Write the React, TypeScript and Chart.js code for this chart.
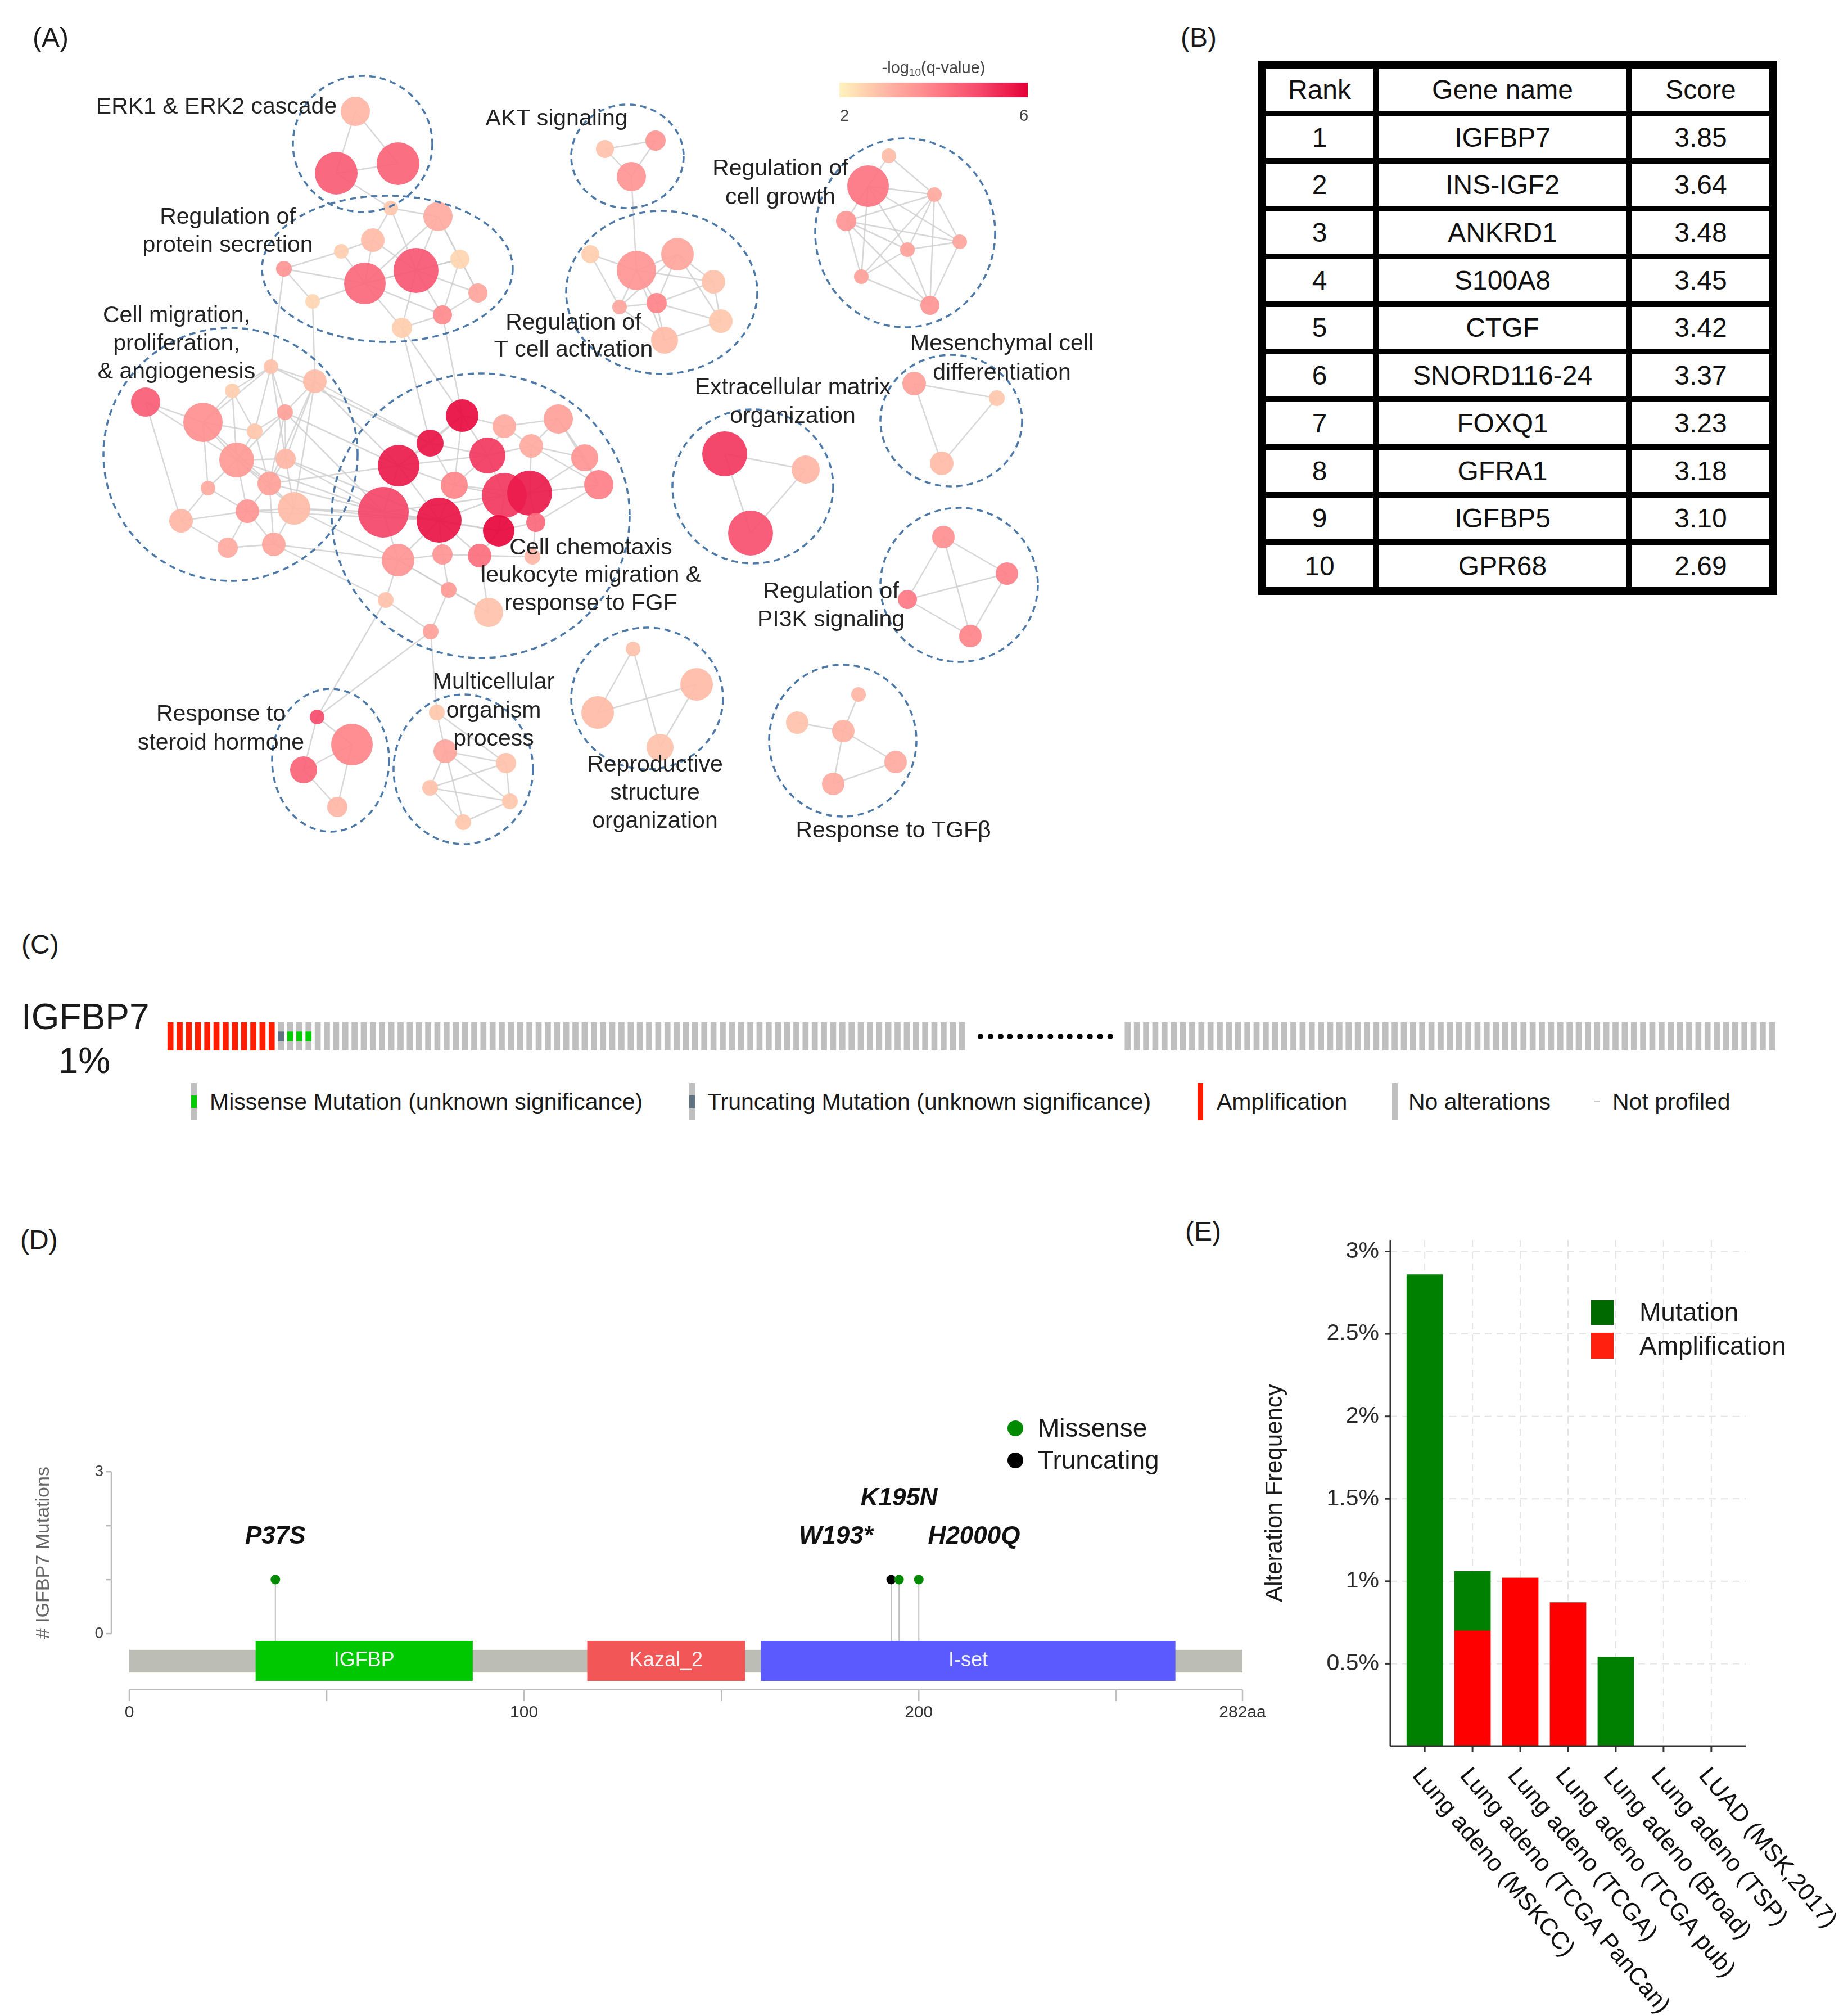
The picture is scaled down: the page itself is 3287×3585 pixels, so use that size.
import React, { useEffect, useRef } from 'react';
import { Chart, registerables } from 'chart.js';

Chart.register(...registerables);

const FONT = "'Liberation Sans', Arial, Helvetica, sans-serif";

// ================= Panel A: enrichment network =================
const clusterLabelLines: string[][] = [
  ['ERK1 & ERK2 cascade'],
  ['Regulation of', 'protein secretion'],
  ['Cell migration,', 'proliferation,', '& angiogenesis'],
  ['Cell chemotaxis', 'leukocyte migration &', 'response to FGF'],
  ['AKT signaling'],
  ['Regulation of', 'T cell activation'],
  ['Multicellular', 'organism', 'process'],
  ['Response to', 'steroid hormone'],
  ['Reproductive', 'structure', 'organization'],
  ['Response to TGFβ'],
  ['Extracellular matrix', 'organization'],
  ['Regulation of', 'cell growth'],
  ['Mesenchymal cell', 'differentiation'],
  ['Regulation of', 'PI3K signaling'],
];
const clusterLabelX = [385, 405, 314, 1051, 990, 1020, 878, 393, 1165, 1589, 1410, 1388, 1782, 1478];
const clusterLabelY: number[][] = [
  [191], [387, 437], [562, 612, 662], [975, 1024, 1074], [212], [575, 623],
  [1214, 1265, 1315], [1271, 1322], [1361, 1411, 1461], [1478], [690, 741],
  [301, 352], [612, 664], [1053, 1103],
];
// [cx, cy, rx, ry] in layout units
const clusterOutline: number[][] = [
  [645, 256, 124, 121], [689, 478, 223, 130], [410, 808, 226, 225], [855, 917, 265, 253],
  [1116, 278, 100, 92], [1177, 520, 170, 145], [824, 1368, 124, 133], [588, 1352, 104, 127],
  [1151, 1242, 135, 126], [1499, 1317, 131, 135], [1339, 865, 143, 137], [1610, 414, 160, 168],
  [1692, 748, 126, 117], [1706, 1040, 140, 137],
];
// nodes per cluster: [x, y, size, -log10(q)]
const clusterNodes: number[][][] = [
  [[632, 198, 26, 3.0], [598, 308, 38, 4.6], [708, 291, 38, 4.5]],
  [[695, 370, 13, 2.7], [779, 385, 26, 3.2], [663, 427, 21, 2.9], [607, 447, 13, 2.6], [505, 478, 14, 3.6],
   [740, 481, 40, 4.7], [649, 504, 37, 4.4], [818, 461, 17, 2.5], [850, 521, 17, 3.3], [787, 560, 17, 3.8],
   [556, 536, 13, 2.5], [715, 583, 18, 2.6]],
  [[482, 652, 13, 2.8], [560, 678, 21, 2.9], [413, 695, 13, 2.6], [259, 715, 26, 4.6], [361, 751, 35, 3.7],
   [507, 733, 14, 3.4], [453, 767, 14, 2.7], [421, 818, 31, 3.5], [508, 816, 18, 3.0], [479, 860, 21, 3.4],
   [370, 868, 13, 3.2], [523, 904, 29, 2.9], [440, 909, 21, 3.6], [322, 926, 21, 3.0], [487, 968, 21, 3.3],
   [405, 974, 18, 3.2]],
  [[822, 739, 29, 5.8], [897, 758, 21, 3.2], [993, 745, 26, 3.4], [765, 788, 24, 5.7], [709, 828, 37, 5.6],
   [867, 810, 32, 5.2], [945, 793, 21, 3.2], [1040, 814, 24, 3.6], [808, 863, 24, 3.9], [1065, 862, 26, 4.0],
   [682, 911, 45, 5.0], [897, 881, 40, 5.2], [942, 877, 40, 5.6], [781, 925, 40, 5.7], [887, 944, 28, 5.9],
   [953, 929, 17, 4.4], [708, 996, 29, 3.6], [787, 986, 18, 3.6], [853, 988, 21, 4.3], [947, 990, 14, 3.0],
   [798, 1049, 14, 3.5], [686, 1067, 14, 2.8], [869, 1089, 26, 2.8], [766, 1123, 14, 3.4]],
  [[1166, 250, 18, 3.6], [1076, 265, 16, 2.8], [1123, 314, 26, 3.6]],
  [[1050, 452, 16, 2.6], [1205, 452, 29, 3.3], [1132, 481, 35, 3.6], [1269, 501, 21, 2.8], [1102, 546, 13, 3.3],
   [1168, 539, 18, 3.9], [1282, 571, 21, 2.7], [1182, 605, 24, 2.9]],
  [[777, 1267, 14, 2.7], [792, 1336, 21, 3.3], [900, 1357, 18, 2.8], [765, 1401, 14, 2.8], [907, 1425, 14, 2.7],
   [824, 1462, 14, 2.7]],
  [[564, 1275, 13, 4.9], [626, 1324, 37, 3.9], [540, 1369, 24, 4.5], [600, 1435, 18, 3.0]],
  [[1126, 1154, 13, 2.8], [1239, 1217, 29, 2.9], [1063, 1267, 29, 2.9], [1174, 1329, 24, 2.8]],
  [[1527, 1235, 13, 3.0], [1418, 1285, 20, 2.8], [1500, 1300, 20, 3.1], [1593, 1355, 20, 3.2], [1482, 1394, 20, 3.2]],
  [[1289, 807, 40, 5.2], [1433, 835, 25, 3.0], [1335, 948, 40, 4.8]],
  [[1581, 277, 13, 2.9], [1544, 331, 37, 4.2], [1662, 346, 13, 3.2], [1505, 393, 18, 3.6], [1614, 444, 13, 3.4],
   [1707, 430, 13, 3.3], [1532, 492, 13, 3.4], [1654, 543, 17, 3.6]],
  [[1626, 682, 21, 3.4], [1773, 708, 14, 2.7], [1675, 824, 21, 2.9]],
  [[1678, 955, 20, 3.7], [1791, 1020, 20, 4.0], [1614, 1066, 17, 4.1], [1726, 1131, 20, 3.9]],
];
const clusterEdges: number[][][] = [
  [[0, 1], [0, 2], [1, 2]],
  [[0, 1], [0, 2], [0, 5], [1, 5], [1, 7], [2, 5], [2, 6], [3, 6], [4, 6], [5, 6], [5, 7], [5, 8], [5, 9], [6, 9],
   [6, 10], [6, 11], [7, 8], [8, 9], [9, 11], [2, 3], [1, 6], [5, 11], [7, 9], [1, 8], [4, 10], [6, 7], [3, 4]],
  [[0, 1], [0, 2], [0, 4], [0, 5], [0, 6], [1, 5], [1, 8], [2, 4], [2, 6], [3, 4], [4, 6], [4, 7], [4, 9], [5, 6],
   [5, 7], [5, 8], [6, 7], [6, 9], [7, 8], [7, 9], [7, 10], [7, 12], [8, 9], [8, 11], [9, 11], [9, 12], [10, 12],
   [10, 13], [11, 12], [11, 14], [12, 14], [12, 15], [13, 15], [14, 15], [4, 10], [1, 11], [0, 8], [2, 7], [7, 11],
   [9, 14], [12, 13], [3, 7], [5, 9], [3, 13], [1, 9]],
  [[0, 1], [0, 3], [0, 5], [0, 8], [1, 5], [1, 6], [2, 6], [2, 7], [3, 4], [3, 5], [3, 8], [4, 8], [4, 10], [4, 13],
   [5, 6], [5, 8], [5, 11], [6, 7], [6, 9], [7, 9], [7, 12], [8, 11], [8, 13], [9, 12], [10, 13], [10, 16], [11, 12],
   [11, 14], [12, 15], [13, 14], [13, 17], [14, 18], [13, 16], [16, 17], [17, 18], [18, 19], [17, 20], [16, 21],
   [20, 22], [20, 23], [18, 22], [15, 19], [9, 15], [11, 13], [4, 5], [0, 4], [10, 11], [14, 15], [12, 14],
   [21, 23], [16, 20], [1, 2], [2, 9], [10, 14], [8, 12], [13, 18], [6, 12], [16, 22]],
  [[0, 1], [1, 2], [0, 2]],
  [[0, 2], [1, 2], [1, 3], [1, 5], [2, 4], [2, 5], [2, 7], [3, 5], [3, 6], [5, 7], [4, 7], [1, 6], [2, 3], [4, 5],
   [5, 6], [1, 4], [0, 4], [6, 7]],
  [[0, 1], [1, 2], [1, 3], [1, 4], [1, 5], [2, 4], [3, 4], [3, 5], [4, 5], [2, 3], [0, 2]],
  [[0, 1], [1, 2], [1, 3], [2, 3], [0, 2]],
  [[0, 2], [0, 3], [1, 2], [1, 3]],
  [[0, 2], [1, 2], [2, 3], [2, 4], [3, 4]],
  [[0, 1], [0, 2], [1, 2]],
  [[0, 1], [1, 2], [1, 3], [1, 4], [1, 5], [1, 6], [2, 3], [2, 4], [2, 5], [2, 6], [2, 7], [3, 4], [3, 6], [3, 5],
   [4, 5], [4, 6], [4, 7], [5, 7], [6, 7], [3, 7], [0, 2]],
  [[0, 1], [0, 2], [1, 2]],
  [[0, 1], [0, 2], [0, 3], [1, 2], [2, 3], [1, 3]],
];
// edges between clusters: [clusterA, nodeA, clusterB, nodeB]
const crossEdges: number[][] = [
  [0, 1, 1, 0], [1, 11, 3, 3], [1, 9, 3, 0], [1, 11, 3, 0], [1, 10, 2, 1], [1, 4, 2, 0],
  [2, 1, 3, 4], [2, 5, 3, 4], [2, 8, 3, 10], [2, 9, 3, 10], [2, 11, 3, 10], [2, 14, 3, 16], [2, 7, 3, 10],
  [2, 11, 3, 16], [2, 12, 3, 13], [2, 0, 3, 3], [2, 1, 3, 3], [2, 5, 3, 10], [2, 8, 3, 13], [2, 11, 3, 13],
  [2, 9, 3, 4], [2, 14, 3, 21], [3, 23, 7, 0], [3, 21, 7, 0], [3, 23, 6, 0], [4, 2, 5, 2],
];
const qStops = [2, 3, 4, 5, 6];
const qColors = ['#FFF3BD', '#FFB6A6', '#FF8088', '#F5476A', '#E50038'];
const colorbarTicks = [2, 6];

// ================= Panel B: table =================
const tableHeader = ['Rank', 'Gene name', 'Score'];
const geneRank = [1, 2, 3, 4, 5, 6, 7, 8, 9, 10];
const geneNames = ['IGFBP7', 'INS-IGF2', 'ANKRD1', 'S100A8', 'CTGF', 'SNORD116-24', 'FOXQ1', 'GFRA1', 'IGFBP5', 'GPR68'];
const geneScores = [3.85, 3.64, 3.48, 3.45, 3.42, 3.37, 3.23, 3.18, 3.10, 2.69];

// ================= Panel C: oncoprint =================
const oncoRuns: [string, number][] = [
  ['Amplification', 12], ['Truncating', 1], ['Missense', 3], ['None', 71], ['Gap', 17], ['None', 71],
];
const oncoStatus: string[] = oncoRuns.flatMap(([s, n]) => Array(n).fill(s));
const ellipsisDots = [88.0, 89.1, 90.2, 91.2, 92.3, 93.4, 94.5, 95.6, 96.7, 97.7, 98.8, 99.9, 101.0, 102.1];
const oncoLegend = ['Missense Mutation (unknown significance)', 'Truncating Mutation (unknown significance)', 'Amplification', 'No alterations', 'Not profiled'];

// ================= Panel D: lollipop =================
const proteinLength = 282;
const domainNames = ['IGFBP', 'Kazal_2', 'I-set'];
const domainStart = [32, 116, 160];
const domainEnd = [87, 156, 265];
const mutationPos = [37, 193, 195, 200];
const mutationCount = [1, 1, 1, 1];
const mutationType = ['Missense', 'Truncating', 'Missense', 'Missense'];
const mutationLabels = ['P37S', 'W193*', 'K195N', 'H2000Q'];
const mutLabelX = [37, 179, 195, 214];
const mutLabelY = [1.79, 1.79, 2.5, 1.79];
const mutAxisTicks = [0, 1, 2, 3];
const mutAxisLabels = ['0', '', '', '3'];
const protTicks = [0, 50, 100, 150, 200, 250, 282];
const protTickLabels = ['0', '', '100', '', '200', '', '282aa'];

// ================= Panel E: alteration frequency =================
const studies = ['Lung adeno (MSKCC)', 'Lung adeno (TCGA PanCan)', 'Lung adeno (TCGA)', 'Lung adeno (TCGA pub)',
  'Lung adeno (Broad)', 'Lung adeno (TSP)', 'LUAD (MSK,2017)'];
const mutationFreq = [2.86, 0.36, 0, 0, 0.54, 0, 0];
const amplificationFreq = [0, 0.70, 1.02, 0.87, 0, 0, 0];
const freqTicks = [0.5, 1, 1.5, 2, 2.5, 3];
const freqTickLabels = ['0.5%', '1%', '1.5%', '2%', '2.5%', '3%'];

// ---------------- helpers ----------------
function hexToRgb(h: string) {
  const n = parseInt(h.slice(1), 16);
  return [(n >> 16) & 255, (n >> 8) & 255, n & 255];
}
function qColor(q: number, a = 1) {
  let i = 0;
  while (i < qStops.length - 2 && q > qStops[i + 1]) i++;
  const t = Math.max(0, Math.min(1, (q - qStops[i]) / (qStops[i + 1] - qStops[i])));
  const c0 = hexToRgb(qColors[i]);
  const c1 = hexToRgb(qColors[i + 1]);
  const c = c0.map((v, k) => Math.round(v + (c1[k] - v) * t));
  return `rgba(${c[0]},${c[1]},${c[2]},${a})`;
}
function seg(ctx: any, x0: number, y0: number, x1: number, y1: number) {
  ctx.beginPath();
  ctx.moveTo(x0, y0);
  ctx.lineTo(x1, y1);
  ctx.stroke();
}

const common: any = {
  responsive: false,
  animation: false,
  events: [],
  plugins: { legend: { display: false }, tooltip: { enabled: false } },
};

// ---------------- Panel A chart ----------------
const networkPlugin = {
  id: 'network',
  beforeDatasetsDraw(chart: any) {
    const { ctx } = chart;
    const sx = chart.scales.x, sy = chart.scales.y;
    const P = (n: number[]) => [sx.getPixelForValue(n[0]), sy.getPixelForValue(n[1])];
    ctx.save();
    ctx.strokeStyle = 'rgba(205,205,205,0.8)';
    ctx.lineWidth = 2.5;
    clusterEdges.forEach((edges, c) => edges.forEach(([i, j]) => {
      const a = P(clusterNodes[c][i]), b = P(clusterNodes[c][j]);
      seg(ctx, a[0], a[1], b[0], b[1]);
    }));
    crossEdges.forEach(([c1, i1, c2, i2]) => {
      const a = P(clusterNodes[c1][i1]), b = P(clusterNodes[c2][i2]);
      seg(ctx, a[0], a[1], b[0], b[1]);
    });
    ctx.restore();
  },
  afterDatasetsDraw(chart: any) {
    const { ctx } = chart;
    const sx = chart.scales.x, sy = chart.scales.y;
    ctx.save();
    ctx.setLineDash([11, 8]);
    ctx.strokeStyle = '#4C79A8';
    ctx.lineWidth = 3.5;
    clusterOutline.forEach(([cx, cy, rx, ry]) => {
      const px = sx.getPixelForValue(cx), py = sy.getPixelForValue(cy);
      const prx = Math.abs(sx.getPixelForValue(cx + rx) - px);
      const pry = Math.abs(sy.getPixelForValue(cy + ry) - py);
      ctx.beginPath();
      ctx.ellipse(px, py, prx, pry, 0, 0, Math.PI * 2);
      ctx.stroke();
    });
    ctx.setLineDash([]);
    ctx.fillStyle = '#222';
    ctx.font = `41px ${FONT}`;
    ctx.textAlign = 'center';
    ctx.textBaseline = 'middle';
    clusterLabelLines.forEach((lines, c) => {
      lines.forEach((ln, k) => {
        ctx.fillText(ln, sx.getPixelForValue(clusterLabelX[c]), sy.getPixelForValue(clusterLabelY[c][k]));
      });
    });
    // colour bar
    const x0 = sx.getPixelForValue(1493), x1 = sx.getPixelForValue(1828);
    const y0 = sy.getPixelForValue(147), y1 = sy.getPixelForValue(173);
    const g = ctx.createLinearGradient(x0, 0, x1, 0);
    qStops.forEach((q, i) => g.addColorStop((q - qStops[0]) / (qStops[qStops.length - 1] - qStops[0]), qColors[i]));
    ctx.fillStyle = g;
    ctx.fillRect(x0, y0, x1 - x0, y1 - y0);
    ctx.fillStyle = '#444';
    ctx.font = `29px ${FONT}`;
    colorbarTicks.forEach((t) => {
      const px = x0 + (x1 - x0) * (t - qStops[0]) / (qStops[qStops.length - 1] - qStops[0]);
      ctx.textAlign = 'center';
      ctx.fillText(String(t), px + (t === colorbarTicks[0] ? 9 : -7), sy.getPixelForValue(207));
    });
    const cxT = (x0 + x1) / 2, cyT = sy.getPixelForValue(122);
    const p1 = '-log', p2 = '10', p3 = '(q-value)';
    ctx.font = `29px ${FONT}`;
    const w1 = ctx.measureText(p1).width, w3 = ctx.measureText(p3).width;
    ctx.font = `19px ${FONT}`;
    const w2 = ctx.measureText(p2).width;
    let sxT = cxT - (w1 + w2 + w3) / 2;
    ctx.textAlign = 'left';
    ctx.font = `29px ${FONT}`;
    ctx.fillText(p1, sxT, cyT);
    sxT += w1;
    ctx.font = `19px ${FONT}`;
    ctx.fillText(p2, sxT, cyT + 8);
    sxT += w2;
    ctx.font = `29px ${FONT}`;
    ctx.fillText(p3, sxT, cyT);
    ctx.restore();
  },
};

function makeNetwork(): any {
  const all = clusterNodes.flat();
  return {
    type: 'bubble',
    data: {
      datasets: [{
        data: all.map((n) => ({ x: n[0], y: n[1], r: n[2] })),
        backgroundColor: all.map((n) => qColor(n[3], 0.93)),
        borderWidth: 0,
        hoverRadius: 0,
      }],
    },
    options: {
      ...common,
      clip: false,
      layout: { autoPadding: false, padding: 0 },
      scales: {
        x: { type: 'linear', min: 0, max: 2050, display: false },
        y: { type: 'linear', min: 0, max: 1560, reverse: true, display: false },
      },
    },
    plugins: [networkPlugin],
  };
}

// ---------------- Panel C chart ----------------
function makeOnco(): any {
  const pick = (ok: (s: string) => boolean, y: number[]) =>
    oncoStatus.map((s, i) => (ok(s) ? { x: i, y } : null)).filter((d) => d !== null);
  const bar = { grouped: false, barThickness: 10, borderWidth: 0 };
  return {
    type: 'bar',
    data: {
      datasets: [
        { label: 'No alterations', data: pick((s) => s === 'None' || s === 'Missense' || s === 'Truncating', [0, 3]), backgroundColor: '#BFBFBF', order: 3, ...bar },
        { label: 'Amplification', data: pick((s) => s === 'Amplification', [0, 3]), backgroundColor: '#FF1E00', order: 2, ...bar },
        { label: 'Missense', data: pick((s) => s === 'Missense', [1, 2]), backgroundColor: '#00CC00', order: 1, ...bar },
        { label: 'Truncating', data: pick((s) => s === 'Truncating', [1, 2]), backgroundColor: '#5E7282', order: 1, ...bar },
        { type: 'scatter', label: 'more samples', data: ellipsisDots.map((x) => ({ x, y: 1.5 })), backgroundColor: '#000', pointRadius: 5, borderWidth: 0, order: 0 },
      ],
    },
    options: {
      ...common,
      clip: false,
      layout: { autoPadding: false, padding: 0 },
      scales: {
        x: { type: 'linear', min: -0.5, max: oncoStatus.length - 0.5, display: false, offset: false },
        y: { type: 'linear', min: 0, max: 3, display: false },
      },
    },
  };
}

// ---------------- Panel D chart ----------------
const domainColors = ['#00C800', '#F25656', '#5A5AFF'];
const lollipopPlugin = {
  id: 'lollipop',
  beforeDatasetsDraw(chart: any) {
    const { ctx } = chart;
    const X = (v: number) => chart.scales.x.getPixelForValue(v);
    const Y = (v: number) => chart.scales.y.getPixelForValue(v);
    ctx.save();
    const ax = X(0) - 32;
    ctx.strokeStyle = '#BBBBBB';
    ctx.lineWidth = 2.5;
    seg(ctx, ax, Y(0), ax, Y(3));
    mutAxisTicks.forEach((t) => seg(ctx, ax - 10, Y(t), ax, Y(t)));
    ctx.fillStyle = '#444';
    ctx.font = `28px ${FONT}`;
    ctx.textAlign = 'right';
    ctx.textBaseline = 'middle';
    mutAxisTicks.forEach((t, i) => { if (mutAxisLabels[i]) ctx.fillText(mutAxisLabels[i], ax - 14, Y(t)); });
    ctx.save();
    ctx.translate(ax - 120, Y(1.5));
    ctx.rotate(-Math.PI / 2);
    ctx.font = `34px ${FONT}`;
    ctx.fillStyle = '#666';
    ctx.textAlign = 'center';
    ctx.fillText('# IGFBP7 Mutations', 0, 0);
    ctx.restore();
    ctx.fillStyle = '#BCBDB5';
    ctx.fillRect(X(0), Y(-0.30), X(proteinLength) - X(0), Y(-0.72) - Y(-0.30));
    domainNames.forEach((n, i) => {
      const x0 = X(domainStart[i]), x1 = X(domainEnd[i]);
      ctx.fillStyle = domainColors[i];
      ctx.fillRect(x0, Y(-0.135), x1 - x0, Y(-0.875) - Y(-0.135));
      ctx.fillStyle = '#F2F2F2';
      ctx.font = `36px ${FONT}`;
      ctx.textAlign = 'center';
      ctx.fillText(n, (x0 + x1) / 2, Y(-0.505));
    });
    ctx.strokeStyle = '#BDBDBD';
    ctx.lineWidth = 2;
    mutationPos.forEach((p, i) => seg(ctx, X(p), Y(mutationCount[i]), X(p), Y(-0.135)));
    const xa = Y(-1.04);
    ctx.strokeStyle = '#BDBDBD';
    ctx.lineWidth = 2.5;
    seg(ctx, X(0), xa, X(proteinLength), xa);
    protTicks.forEach((t) => seg(ctx, X(t), xa, X(t), xa + 20));
    ctx.fillStyle = '#333';
    ctx.font = `30px ${FONT}`;
    ctx.textAlign = 'center';
    protTicks.forEach((t, i) => { if (protTickLabels[i]) ctx.fillText(protTickLabels[i], X(t), Y(-1.47)); });
    ctx.restore();
  },
  afterDatasetsDraw(chart: any) {
    const { ctx } = chart;
    const X = (v: number) => chart.scales.x.getPixelForValue(v);
    const Y = (v: number) => chart.scales.y.getPixelForValue(v);
    ctx.save();
    ctx.fillStyle = '#111';
    ctx.font = `italic bold 44px ${FONT}`;
    ctx.textAlign = 'center';
    ctx.textBaseline = 'middle';
    mutationLabels.forEach((l, i) => ctx.fillText(l, X(mutLabelX[i]), Y(mutLabelY[i])));
    ctx.restore();
  },
};

function makeLollipop(): any {
  const pts = (type: string) => mutationPos
    .map((p, i) => ({ x: p, y: mutationCount[i], t: mutationType[i] }))
    .filter((d) => d.t === type);
  return {
    type: 'scatter',
    data: {
      datasets: [
        { label: 'Missense', data: pts('Missense'), backgroundColor: '#008A00', pointRadius: 8.5, borderWidth: 0 },
        { label: 'Truncating', data: pts('Truncating'), backgroundColor: '#000000', pointRadius: 8.5, borderWidth: 0 },
      ],
    },
    options: {
      ...common,
      layout: { autoPadding: false, padding: { left: 230, right: 90, top: 148, bottom: 51 } },
      scales: {
        x: { type: 'linear', min: 0, max: proteinLength, display: false },
        y: { type: 'linear', min: -1.5, max: 3.2, display: false },
      },
    },
    plugins: [lollipopPlugin],
  };
}

// ---------------- Panel E chart ----------------
const freqPlugin = {
  id: 'freqAxes',
  beforeDatasetsDraw(chart: any) {
    const { ctx, chartArea: a } = chart;
    const x = chart.scales.x, y = chart.scales.y;
    ctx.save();
    ctx.strokeStyle = '#E4E4E4';
    ctx.lineWidth = 2;
    ctx.setLineDash([12, 9]);
    studies.forEach((_, i) => { const px = x.getPixelForValue(i); seg(ctx, px, a.top, px, a.bottom); });
    freqTicks.forEach((t) => { const py = y.getPixelForValue(t); seg(ctx, a.left, py, a.right, py); });
    ctx.restore();
  },
  afterDatasetsDraw(chart: any) {
    const { ctx, chartArea: a } = chart;
    const x = chart.scales.x, y = chart.scales.y;
    ctx.save();
    ctx.strokeStyle = '#333';
    ctx.lineWidth = 3;
    seg(ctx, a.left, a.top, a.left, a.bottom);
    seg(ctx, a.left, a.bottom, a.right, a.bottom);
    freqTicks.forEach((t) => { const py = y.getPixelForValue(t); seg(ctx, a.left - 10, py, a.left, py); });
    studies.forEach((_, i) => { const px = x.getPixelForValue(i); seg(ctx, px, a.bottom, px, a.bottom + 11); });
    ctx.fillStyle = '#2A2A2A';
    ctx.font = `41px ${FONT}`;
    ctx.textAlign = 'right';
    ctx.textBaseline = 'middle';
    freqTicks.forEach((t, i) => ctx.fillText(freqTickLabels[i], a.left - 20, y.getPixelForValue(t)));
    ctx.save();
    ctx.translate(a.left - 205, (a.top + a.bottom) / 2);
    ctx.rotate(-Math.PI / 2);
    ctx.textAlign = 'center';
    ctx.fillStyle = '#1A1A1A';
    ctx.font = `42px ${FONT}`;
    ctx.fillText('Alteration Frequency', 0, 0);
    ctx.restore();
    ctx.fillStyle = '#111';
    ctx.font = `43px ${FONT}`;
    ctx.textAlign = 'left';
    ctx.textBaseline = 'alphabetic';
    studies.forEach((s, i) => {
      ctx.save();
      ctx.translate(x.getPixelForValue(i), a.bottom + 33);
      ctx.rotate((50 * Math.PI) / 180);
      ctx.fillText(s, 0, 31);
      ctx.restore();
    });
    ctx.restore();
  },
};

function makeFreq(): any {
  return {
    type: 'bar',
    data: {
      datasets: [
        { label: 'Amplification', data: studies.map((_, i) => ({ x: i, y: amplificationFreq[i] })), backgroundColor: '#FF0000', barThickness: 64, borderWidth: 0 },
        { label: 'Mutation', data: studies.map((_, i) => ({ x: i, y: mutationFreq[i] })), backgroundColor: '#008000', barThickness: 64, borderWidth: 0 },
      ],
    },
    options: {
      ...common,
      layout: { autoPadding: false, padding: { left: 323, right: 182, top: 55, bottom: 480 } },
      scales: {
        x: { type: 'linear', min: -0.72, max: 6.72, display: false, stacked: true, offset: false },
        y: { type: 'linear', min: 0, max: 3.07, display: false, stacked: true },
      },
    },
    plugins: [freqPlugin],
  };
}

// ---------------- components ----------------
function ChartBox({ left, top, width, height, make }: any) {
  const ref = useRef<HTMLCanvasElement | null>(null);
  useEffect(() => {
    if (!ref.current) return;
    const chart = new Chart(ref.current, make());
    return () => chart.destroy();
  }, []);
  return (
    <div style={{ position: 'absolute', left, top, width, height }}>
      <canvas ref={ref} width={width} height={height} style={{ width, height, display: 'block' }} />
    </div>
  );
}

function Txt({ x, y, size, children, anchor = 'left', weight = 400, color = '#1A1A1A' }: any) {
  const tr = anchor === 'center' ? 'translateX(-50%)' : anchor === 'right' ? 'translateX(-100%)' : undefined;
  return (
    <div style={{
      position: 'absolute', left: x, top: y - size * 0.6, height: size * 1.2, lineHeight: `${size * 1.2}px`,
      fontSize: size, fontFamily: FONT, fontWeight: weight, color, whiteSpace: 'nowrap', transform: tr,
    }}>{children}</div>
  );
}

function GeneTable() {
  const cell: any = {
    background: '#fff', display: 'flex', alignItems: 'center', justifyContent: 'center',
    fontSize: 48, fontFamily: FONT, color: '#111',
  };
  const rows = [tableHeader, ...geneRank.map((r, i) => [String(r), geneNames[i], geneScores[i].toFixed(2)])];
  return (
    <div style={{
      position: 'absolute', left: 2238, top: 108, width: 923, height: 950, boxSizing: 'border-box',
      background: '#000', padding: 14, display: 'grid', gridTemplateColumns: '190px 441px 244px',
      gridTemplateRows: 'repeat(11, 1fr)', gap: 10,
    }}>
      {rows.flatMap((r, i) => r.map((c, j) => <div key={`${i}-${j}`} style={cell}>{c}</div>))}
    </div>
  );
}

function OncoLegend() {
  const iconTop = 1926, iconH = 66;
  const icons = [
    { x: 340, base: '#BFBFBF', inner: '#00CC00', tx: 373 },
    { x: 1226, base: '#BFBFBF', inner: '#5E7282', tx: 1258 },
    { x: 2130, base: '#FF1E00', inner: null, tx: 2164 },
    { x: 2476, base: '#BFBFBF', inner: null, tx: 2505 },
    { x: 2836, base: null, inner: null, tx: 2868 },
  ];
  return (
    <>
      {icons.map((ic, i) => (
        <React.Fragment key={i}>
          {ic.base ? (
            <div style={{ position: 'absolute', left: ic.x, top: iconTop, width: 10, height: iconH, background: ic.base }}>
              {ic.inner ? <div style={{ position: 'absolute', left: 0, top: iconH / 3, width: 10, height: iconH / 3, background: ic.inner }} /> : null}
            </div>
          ) : (
            <div style={{ position: 'absolute', left: ic.x, top: iconTop + iconH / 2 - 2, width: 10, height: 3, background: '#C8C8C8' }} />
          )}
          <Txt x={ic.tx} y={1960} size={41}>{oncoLegend[i]}</Txt>
        </React.Fragment>
      ))}
    </>
  );
}

export default function App() {
  useEffect(() => {
    document.body.style.margin = '0';
  }, []);
  return (
    <div style={{ position: 'relative', width: 3287, height: 3585, background: '#fff', overflow: 'hidden' }}>
      <ChartBox left={0} top={0} width={2050} height={1560} make={makeNetwork} />
      <Txt x={58} y={67} size={48}>(A)</Txt>

      <Txt x={2100} y={67} size={48}>(B)</Txt>
      <GeneTable />

      <Txt x={38} y={1680} size={48}>(C)</Txt>
      <Txt x={38} y={1808} size={64}>IGFBP7</Txt>
      <Txt x={150} y={1886} size={64} anchor="center">1%</Txt>
      <ChartBox left={295} top={1818} width={2865} height={50} make={makeOnco} />
      <OncoLegend />

      <Txt x={36} y={2205} size={48}>(D)</Txt>
      <ChartBox left={0} top={2450} width={2300} height={650} make={makeLollipop} />
      <div style={{ position: 'absolute', left: 1792, top: 2526, width: 28, height: 28, borderRadius: 14, background: '#008A00' }} />
      <div style={{ position: 'absolute', left: 1792, top: 2583, width: 28, height: 28, borderRadius: 14, background: '#000' }} />
      <Txt x={1846} y={2540} size={46}>Missense</Txt>
      <Txt x={1846} y={2597} size={46}>Truncating</Txt>

      <Txt x={2108} y={2190} size={48}>(E)</Txt>
      <ChartBox left={2150} top={2150} width={1137} height={1435} make={makeFreq} />
      <div style={{ position: 'absolute', left: 2830, top: 2312, width: 40, height: 44, background: '#006A00' }} />
      <div style={{ position: 'absolute', left: 2830, top: 2370, width: 40, height: 46, background: '#FF2010' }} />
      <Txt x={2916} y={2334} size={46}>Mutation</Txt>
      <Txt x={2916} y={2394} size={46}>Amplification</Txt>
    </div>
  );
}
